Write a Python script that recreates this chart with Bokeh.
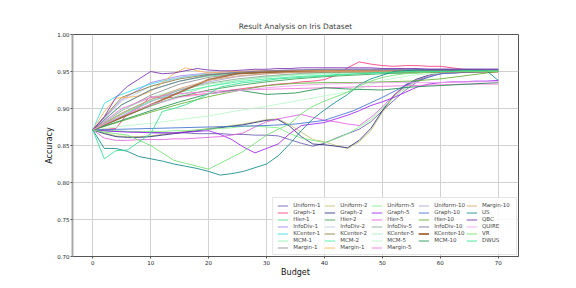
from bokeh.plotting import figure
from bokeh.models import Legend, LegendItem, FixedTicker, NumeralTickFormatter, Range1d
from bokeh.embed import file_html
from bokeh.resources import INLINE

# ---- budgets (x values) ----
budget_2 = [0, 2, 4, 6, 8, 10, 12, 14, 16, 18, 20, 22, 24, 26, 28, 30, 32, 34,
            36, 38, 40, 42, 44, 46, 48, 50, 52, 54, 56, 58, 60, 62, 64, 66, 68, 70]
budget_5 = [0, 5, 10, 15, 20, 25, 30, 35, 40, 45, 50, 55, 60, 65, 70]

x_ticks = [0, 10, 20, 30, 40, 50, 60, 70]
y_ticks = [0.70, 0.75, 0.80, 0.85, 0.90, 0.95, 1.00]

# ---- accuracy series ----
uniform_1 = [0.871, 0.870, 0.869, 0.869, 0.868, 0.868, 0.867, 0.867, 0.867, 0.866, 0.866, 0.866,
             0.865, 0.865, 0.864, 0.864, 0.863, 0.858, 0.853, 0.849, 0.853, 0.860, 0.866, 0.872,
             0.882, 0.897, 0.911, 0.925, 0.936, 0.943, 0.947, 0.948, 0.949, 0.950, 0.950, 0.950]
graph_1 = [0.871, 0.872, 0.873, 0.893, 0.902, 0.916, 0.914, 0.915, 0.917, 0.919, 0.920, 0.922,
           0.925, 0.927, 0.929, 0.931, 0.933, 0.934, 0.936, 0.937, 0.939, 0.945, 0.955, 0.963,
           0.960, 0.958, 0.957, 0.958, 0.958, 0.957, 0.957, 0.955, 0.953, 0.952, 0.951, 0.951]
hier_1 = [0.871, 0.905, 0.925, 0.937, 0.944, 0.947, 0.949, 0.950, 0.951, 0.951, 0.952, 0.952, 0.952, 0.952, 0.952]
infodiv_1 = [0.871, 0.912, 0.935, 0.944, 0.948, 0.950, 0.951, 0.952, 0.952, 0.953, 0.953, 0.953, 0.953, 0.953, 0.953]
kcenter_1 = [0.871, 0.907, 0.916, 0.922, 0.928, 0.933, 0.937, 0.940, 0.943, 0.945, 0.946, 0.947,
             0.948, 0.948, 0.949, 0.949, 0.950, 0.950, 0.950, 0.951, 0.951, 0.951, 0.951, 0.951,
             0.951, 0.952, 0.952, 0.952, 0.952, 0.952, 0.952, 0.952, 0.952, 0.952, 0.952, 0.952]
mcm_1 = [0.871, 0.888, 0.903, 0.918, 0.930, 0.938, 0.943, 0.946, 0.948, 0.949, 0.950, 0.950, 0.950, 0.950, 0.950]
margin_1 = [0.871, 0.897, 0.918, 0.933, 0.942, 0.947, 0.949, 0.950, 0.951, 0.951, 0.951, 0.951, 0.951, 0.951, 0.951]
uniform_2 = [0.871, 0.867, 0.863, 0.862, 0.862, 0.863, 0.865, 0.867, 0.869, 0.871, 0.873, 0.875,
             0.877, 0.879, 0.882, 0.885, 0.886, 0.878, 0.868, 0.858, 0.855, 0.850, 0.846, 0.855,
             0.870, 0.895, 0.917, 0.931, 0.939, 0.944, 0.947, 0.948, 0.949, 0.950, 0.950, 0.950]
graph_2 = [0.871, 0.866, 0.862, 0.861, 0.861, 0.862, 0.864, 0.866, 0.868, 0.870, 0.872, 0.874,
           0.876, 0.878, 0.881, 0.884, 0.885, 0.876, 0.862, 0.852, 0.851, 0.849, 0.847, 0.857,
           0.873, 0.897, 0.918, 0.932, 0.940, 0.945, 0.948, 0.949, 0.950, 0.950, 0.951, 0.951]
hier_2 = [0.871, 0.888, 0.904, 0.916, 0.925, 0.931, 0.936, 0.940, 0.943, 0.945, 0.947, 0.948, 0.949, 0.950, 0.950]
infodiv_2 = [0.871, 0.910, 0.930, 0.942, 0.948, 0.950, 0.951, 0.952, 0.952, 0.952, 0.952, 0.952, 0.952, 0.952, 0.952]
kcenter_2 = [0.871, 0.915, 0.930, 0.940, 0.946, 0.948, 0.949, 0.950, 0.950, 0.950, 0.950, 0.950, 0.950, 0.950, 0.950]
mcm_2 = [0.871, 0.892, 0.910, 0.922, 0.930, 0.936, 0.940, 0.943, 0.945, 0.947, 0.948, 0.949, 0.950, 0.950, 0.950]
margin_1b = [0.871, 0.896, 0.914, 0.915, 0.917, 0.923, 0.935, 0.947, 0.955, 0.951, 0.948, 0.949,
             0.950, 0.950, 0.951, 0.951, 0.951, 0.951, 0.951, 0.951, 0.951, 0.951, 0.951, 0.951,
             0.951, 0.951, 0.951, 0.951, 0.951, 0.951, 0.951, 0.951, 0.951, 0.951, 0.951, 0.951]
uniform_5 = [0.871, 0.870, 0.870, 0.869, 0.869, 0.869, 0.869, 0.870, 0.870, 0.871, 0.872, 0.873,
             0.874, 0.876, 0.876, 0.875, 0.874, 0.866, 0.860, 0.857, 0.854, 0.859, 0.866, 0.875,
             0.885, 0.900, 0.915, 0.928, 0.938, 0.944, 0.948, 0.949, 0.950, 0.950, 0.950, 0.950]
graph_5 = [0.871, 0.870, 0.869, 0.868, 0.868, 0.867, 0.867, 0.867, 0.868, 0.869, 0.870, 0.865,
           0.858, 0.848, 0.840, 0.846, 0.852, 0.866, 0.877, 0.879, 0.881, 0.886, 0.891, 0.897,
           0.904, 0.909, 0.915, 0.922, 0.929, 0.933, 0.935, 0.936, 0.936, 0.937, 0.937, 0.938]
hier_5 = [0.871, 0.860, 0.857, 0.857, 0.858, 0.858, 0.858, 0.859, 0.859, 0.860, 0.861, 0.862,
          0.864, 0.867, 0.875, 0.882, 0.886, 0.889, 0.892, 0.888, 0.884, 0.882, 0.879, 0.877,
          0.888, 0.902, 0.918, 0.930, 0.938, 0.944, 0.947, 0.948, 0.949, 0.949, 0.950, 0.950]
infodiv_5 = [0.871, 0.894, 0.912, 0.925, 0.934, 0.940, 0.944, 0.947, 0.949, 0.950, 0.950, 0.951, 0.951, 0.951, 0.951]
kcenter_5 = [0.871, 0.898, 0.915, 0.926, 0.933, 0.938, 0.942, 0.945, 0.947, 0.948, 0.949, 0.950, 0.950, 0.950, 0.950]
mcm_5 = [0.871, 0.876, 0.880, 0.885, 0.890, 0.897, 0.903, 0.910, 0.917, 0.924, 0.938, 0.945, 0.948, 0.949, 0.950]
margin_5 = [0.871, 0.900, 0.915, 0.920, 0.923, 0.925, 0.926, 0.927, 0.928, 0.929, 0.930, 0.931, 0.932, 0.933, 0.933]
uniform_10 = [0.871, 0.890, 0.909, 0.925, 0.936, 0.943, 0.947, 0.949, 0.950, 0.950, 0.951, 0.951, 0.951, 0.951, 0.951]
graph_10 = [0.871, 0.872, 0.873, 0.874, 0.875, 0.876, 0.877, 0.879, 0.884, 0.897, 0.915, 0.935, 0.947, 0.949, 0.950]
hier_10 = [0.871, 0.883, 0.895, 0.906, 0.916, 0.924, 0.931, 0.934, 0.935, 0.935, 0.936, 0.937, 0.940, 0.945, 0.950]
infodiv_10 = [0.871, 0.905, 0.925, 0.937, 0.945, 0.949, 0.951, 0.952, 0.953, 0.953, 0.953, 0.953, 0.953, 0.953, 0.953]
kcenter_10 = [0.871, 0.888, 0.905, 0.922, 0.939, 0.947, 0.949, 0.950, 0.950, 0.950, 0.950, 0.950, 0.950, 0.950, 0.950]
mcm_10 = [0.871, 0.884, 0.897, 0.909, 0.920, 0.925, 0.919, 0.921, 0.928, 0.926, 0.925, 0.929, 0.931, 0.933, 0.935]
margin_10 = [0.871, 0.893, 0.912, 0.927, 0.938, 0.944, 0.947, 0.949, 0.950, 0.950, 0.950, 0.950, 0.950, 0.950, 0.950]
us = [0.871, 0.846, 0.846, 0.842, 0.835, 0.832, 0.829, 0.825, 0.822, 0.819, 0.815, 0.810,
      0.812, 0.815, 0.820, 0.825, 0.836, 0.852, 0.870, 0.886, 0.898, 0.909, 0.919, 0.932,
      0.940, 0.945, 0.950, 0.951, 0.952, 0.952, 0.952, 0.952, 0.952, 0.952, 0.951, 0.938]
qbc = [0.871, 0.889, 0.915, 0.930, 0.940, 0.950, 0.947, 0.948, 0.951, 0.954, 0.952, 0.951,
       0.951, 0.952, 0.953, 0.953, 0.954, 0.954, 0.955, 0.955, 0.955, 0.955, 0.955, 0.955,
       0.955, 0.954, 0.954, 0.954, 0.954, 0.953, 0.953, 0.953, 0.953, 0.953, 0.953, 0.953]
quire = [0.871, 0.890, 0.905, 0.915, 0.920, 0.924, 0.928, 0.931, 0.933, 0.934, 0.935, 0.935, 0.935, 0.936, 0.936]
vr = [0.871, 0.868, 0.866, 0.864, 0.857, 0.850, 0.840, 0.830, 0.826, 0.822, 0.818, 0.826,
      0.834, 0.842, 0.853, 0.864, 0.872, 0.879, 0.893, 0.903, 0.910, 0.916, 0.922, 0.930,
      0.937, 0.942, 0.945, 0.947, 0.948, 0.949, 0.950, 0.950, 0.950, 0.950, 0.950, 0.950]
dwus = [0.871, 0.832, 0.843, 0.844, 0.855, 0.866, 0.896, 0.900, 0.905, 0.912, 0.920, 0.929,
        0.932, 0.935, 0.936, 0.938, 0.940, 0.941, 0.942, 0.943, 0.944, 0.945, 0.946, 0.947,
        0.948, 0.949, 0.949, 0.950, 0.950, 0.950, 0.950, 0.950, 0.951, 0.951, 0.951, 0.951]

labels = ["Uniform-1", "Graph-1", "Hier-1", "InfoDiv-1", "KCenter-1", "MCM-1", "Margin-1",
          "Uniform-2", "Graph-2", "Hier-2", "InfoDiv-2", "KCenter-2", "MCM-2", "Margin-1",
          "Uniform-5", "Graph-5", "Hier-5", "InfoDiv-5", "KCenter-5", "MCM-5", "Margin-5",
          "Uniform-10", "Graph-10", "Hier-10", "InfoDiv-10", "KCenter-10", "MCM-10",
          "Margin-10", "US", "QBC", "QUIRE", "VR", "DWUS"]
series = [uniform_1, graph_1, hier_1, infodiv_1, kcenter_1, mcm_1, margin_1,
          uniform_2, graph_2, hier_2, infodiv_2, kcenter_2, mcm_2, margin_1b,
          uniform_5, graph_5, hier_5, infodiv_5, kcenter_5, mcm_5, margin_5,
          uniform_10, graph_10, hier_10, infodiv_10, kcenter_10, mcm_10,
          margin_10, us, qbc, quire, vr, dwus]
colors = ["#6a5aad", "#ff3a80", "#50e090", "#a080f0", "#30d8f0", "#90f0b0", "#8c8c8c",
          "#c0c070", "#2a3080", "#40a050", "#b8c8e0", "#8a7a3a", "#40f0a0", "#ffb050",
          "#80f080", "#a020f0", "#e060e0", "#88a890", "#a0f0c0", "#b8f8c8", "#f070d8",
          "#a8a0d0", "#4070d0", "#60b030", "#7a7098", "#a06030", "#209050",
          "#d8a070", "#108888", "#7830b0", "#f0a0f0", "#70e070", "#30e090"]
widths = [1.0] * 33
widths[25] = 1.8

FONT = "DejaVu Sans"

p = figure(width=560, height=282, output_backend="svg", toolbar_location=None,
           x_range=Range1d(-3.5, 73.5), y_range=Range1d(0.70, 1.00),
           min_border_left=72, min_border_right=42, min_border_top=34, min_border_bottom=26)
p.title.text = "Result Analysis on Iris Dataset"
p.title.align = "center"
p.title.text_font = FONT
p.title.text_font_style = "normal"
p.title.text_font_size = "7.5px"
p.title.standoff = 8

renderers = []
for ys, c, w in zip(series, colors, widths):
    xs = budget_2 if len(ys) == len(budget_2) else budget_5
    r = p.line(xs, ys, line_color=c, line_width=w, line_alpha=0.85)
    renderers.append(r)
blank = p.line([], [], line_alpha=0)

p.xaxis.ticker = FixedTicker(ticks=x_ticks)
p.yaxis.ticker = FixedTicker(ticks=y_ticks)
p.yaxis.formatter = NumeralTickFormatter(format="0.00")
for ax in (p.xaxis[0], p.yaxis[0]):
    ax.major_label_text_font = FONT
    ax.major_label_text_font_size = "5.5px"
    ax.major_label_text_color = "#222222"
    ax.axis_label_text_font = FONT
    ax.axis_label_text_font_size = "8px"
    ax.axis_label_text_font_style = "normal"
    ax.axis_label_text_color = "#111111"
    ax.minor_tick_line_color = None
    ax.major_tick_out = 2
    ax.major_tick_in = 0
    ax.major_tick_line_color = "#555555"
    ax.axis_line_color = "#555555"
    ax.major_label_standoff = 1
    ax.axis_label_standoff = 0
p.xaxis.axis_label = "Budget"
p.yaxis.axis_label = "Accuracy"
p.yaxis.axis_line_color = "#aaaaaa"
p.yaxis.axis_line_width = 2
p.outline_line_color = "#555555"
p.grid.grid_line_color = "#d0d0d0"
p.grid.grid_line_width = 1

items = [LegendItem(label=l, renderers=[r]) for l, r in zip(labels, renderers)]
items.insert(27, LegendItem(label=" ", renderers=[blank]))
legend = Legend(items=items, location="bottom_right", ncols=5, orientation="vertical",
                label_text_font=FONT, label_text_font_size="5.5px",
                label_height=5, glyph_height=5, glyph_width=11, label_standoff=5,
                label_width=30, spacing=1, padding=4, margin=1,
                border_line_color="#cccccc", background_fill_alpha=0.85)
p.add_layout(legend)

open("out.html", "w").write(file_html(p, INLINE))
